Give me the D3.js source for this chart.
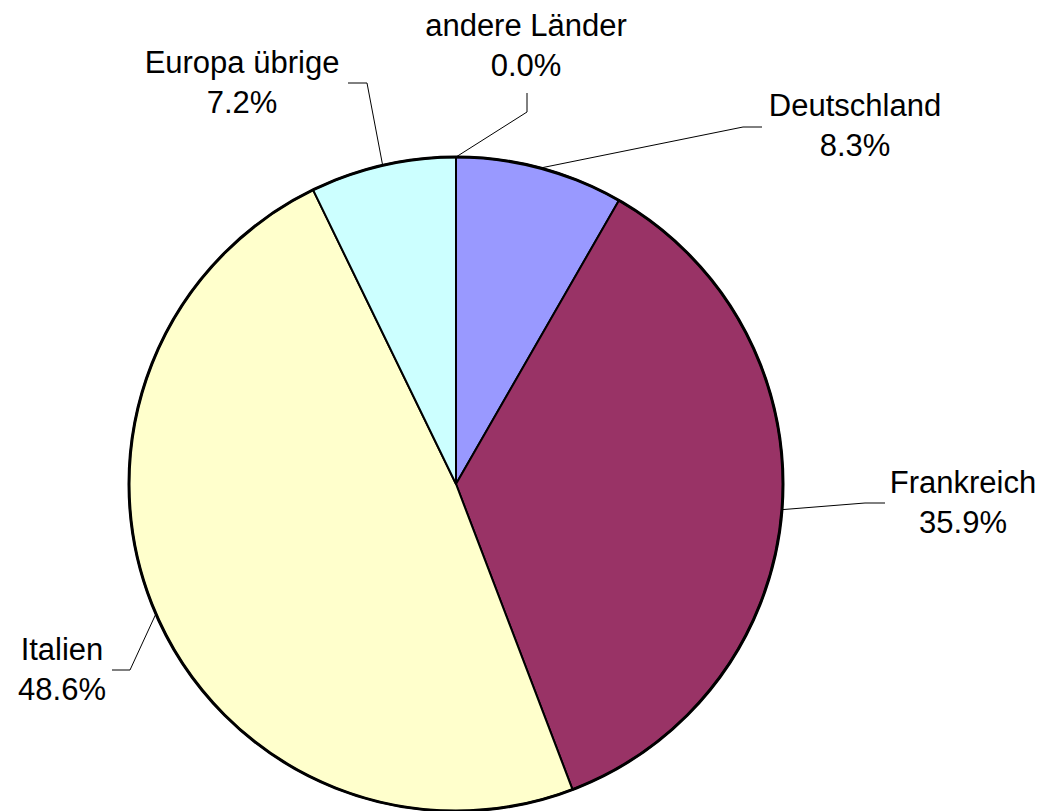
<!DOCTYPE html>
<html>
<head>
<meta charset="utf-8">
<script src="https://cdn.jsdelivr.net/npm/d3@7"></script>
<style>
  body { margin: 0; background: #fff; }
  text { font-family: "Liberation Sans", Arial, Helvetica, sans-serif; font-size: 31px; fill: #000; }
</style>
</head>
<body>
<svg id="chart" width="1048" height="811"></svg>
<script>
// slices, clockwise from 12 o'clock
var categories = ["Deutschland", "Frankreich", "Italien", "Europa übrige", "andere Länder"];
var shares     = [8.3, 35.9, 48.6, 7.2, 0.0];
var colours    = ["#9999FF", "#993366", "#FFFFCC", "#CCFFFF", "#FFFFFF"];

// where each label sits (first line baseline) and the bend of its leader line
var labelPos = [
  {x: 855, y: 116, bend: [743, 127], end: [762, 127]},
  {x: 963, y: 493, bend: [865, 503], end: [885, 503]},
  {x: 62,  y: 660, bend: [130, 670], end: [112, 670]},
  {x: 242, y: 73,  bend: [367, 83],  end: [348, 83]},
  {x: 526, y: 36,  bend: [527, 112], end: [527, 93]}
];

var data = categories.map(function(c, i) { return {name: c, value: shares[i], colour: colours[i], lab: labelPos[i]}; });

const svg = d3.select("#chart"),
      cx = 456, cy = 484, radius = 327;

const g = svg.append("g").attr("transform", `translate(${cx},${cy})`);

var pie = d3.pie().value(d => d.value).sort(null);
var arc = d3.arc().innerRadius(0).outerRadius(radius);
var arcs = pie(data);

// slices
g.selectAll("path.slice")
  .data(arcs.filter(d => d.data.value > 0))
  .enter().append("path")
    .attr("class", "slice")
    .attr("d", arc)
    .style("fill", d => d.data.colour)
    .style("stroke", "#000")
    .style("stroke-width", 2)
    .style("stroke-linejoin", "round");

// thicker outer rim
g.append("circle").attr("r", radius)
  .style("fill", "none").style("stroke", "#000").style("stroke-width", 3);

// leader lines from the middle of each slice's rim
g.selectAll("polyline.leader")
  .data(arcs)
  .enter().append("polyline")
    .attr("class", "leader")
    .attr("points", function(d) {
      var a = (d.startAngle + d.endAngle) / 2;
      var sx = Math.sin(a) * radius, sy = -Math.cos(a) * radius;
      var b = d.data.lab.bend, e = d.data.lab.end;
      return [[sx, sy], [b[0] - cx, b[1] - cy], [e[0] - cx, e[1] - cy]].join(" ");
    })
    .style("fill", "none").style("stroke", "#000").style("stroke-width", 1);

// labels: name and percentage
var fmt = d3.format(".1f");
var lab = svg.selectAll("text.lab")
  .data(data)
  .enter().append("text")
    .attr("class", "lab")
    .attr("text-anchor", "middle");
lab.append("tspan").attr("x", d => d.lab.x).attr("y", d => d.lab.y).text(d => d.name);
lab.append("tspan").attr("x", d => d.lab.x).attr("y", d => d.lab.y + 40).text(d => fmt(d.value) + "%");
</script>
</body>
</html>
